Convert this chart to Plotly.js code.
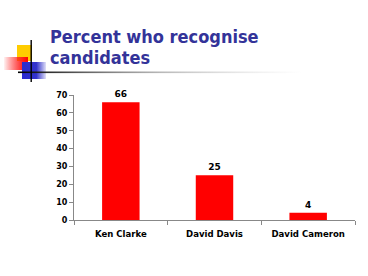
<!DOCTYPE html>
<html><head><meta charset="utf-8">
<script src="https://cdn.plot.ly/plotly-3.0.1.min.js"></script>
<style>html,body{margin:0;padding:0;background:#fff;}#c{width:368px;height:276px;}</style>
</head><body><div id="c"></div>
<script>
const categories = ["Ken Clarke", "David Davis", "David Cameron"];
const values = [66, 25, 4];
const yTicks = [0, 10, 20, 30, 40, 50, 60, 70];
const titleLines = ["Percent who recognise", "candidates"];

const L = 74, R = 13, T = 95, B = 56, W = 368, H = 276;
const pw = W - L - R, ph = H - T - B;
const COND = 'DejaVu Sans Condensed, DejaVu Sans';

const deco = `<svg xmlns='http://www.w3.org/2000/svg' width='368' height='276' viewBox='0 0 368 276'>
<defs>
<linearGradient id='r' x1='0' x2='1' y1='0' y2='0'><stop offset='0' stop-color='#ff0000' stop-opacity='0.05'/><stop offset='0.7' stop-color='#ff2020' stop-opacity='0.9'/><stop offset='1' stop-color='#ff0000'/></linearGradient>
<linearGradient id='b' x1='0' x2='1' y1='0' y2='0'><stop offset='0' stop-color='#2b2bd0'/><stop offset='0.6' stop-color='#3333cc'/><stop offset='1' stop-color='#3333cc' stop-opacity='0.15'/></linearGradient>
<linearGradient id='h' x1='0' x2='1' y1='0' y2='0'><stop offset='0' stop-color='#000'/><stop offset='0.12' stop-color='#333'/><stop offset='0.5' stop-color='#999' stop-opacity='0.7'/><stop offset='1' stop-color='#ccc' stop-opacity='0'/></linearGradient>
</defs>
<rect x='17' y='45' width='15' height='16' fill='#ffcc00'/>
<rect x='4' y='57' width='24' height='13' fill='url(#r)'/>
<rect x='22' y='62' width='24' height='17' fill='url(#b)'/>
<rect x='18' y='71.5' width='285' height='1.6' fill='url(#h)'/>
<rect x='30.5' y='40' width='1.4' height='42' fill='#000'/>
</svg>`;
const decoUri = 'data:image/svg+xml;charset=utf-8,' + encodeURIComponent(deco);

const data = [{
  type: 'bar',
  x: categories,
  y: values,
  text: values.map(String),
  textposition: 'outside',
  cliponaxis: false,
  textfont: {family: 'DejaVu Sans', size: 9, color: '#000', weight: 'bold'},
  marker: {color: '#ff0000', line: {width: 0}},
  hoverinfo: 'none'
}];

function py(p) { return (H - B - p) / ph; }
function px(p) { return (p - L) / pw; }

const layout = {
  width: W, height: H,
  margin: {l: L, r: R, t: T, b: B, pad: 0},
  paper_bgcolor: '#fff', plot_bgcolor: 'rgba(0,0,0,0)',
  showlegend: false,
  bargap: 0.6,
  font: {family: 'DejaVu Sans', size: 9, color: '#000', weight: 'bold'},
  xaxis: {
    type: 'category', showgrid: false, zeroline: false,
    showline: true, linecolor: '#888', linewidth: 1,
    ticks: 'outside', ticklen: 4, tickcolor: '#888', tickson: 'boundaries',
    ticklabelstandoff: 5,
    tickfont: {family: COND, size: 9.5, color: '#000', weight: 'bold'},
    fixedrange: true
  },
  yaxis: {
    range: [0, 70], tickvals: yTicks, ticktext: yTicks.map(String),
    showgrid: false, zeroline: false,
    showline: true, linecolor: '#888', linewidth: 1,
    ticks: 'outside', ticklen: 4, tickcolor: '#888',
    tickfont: {family: 'DejaVu Sans', size: 8, color: '#000', weight: 'bold'},
    fixedrange: true
  },
  annotations: [
    {xref: 'paper', yref: 'paper', x: px(49), y: py(48), xanchor: 'left', yanchor: 'bottom',
     text: titleLines[0], showarrow: false, borderpad: 0,
     font: {family: COND, size: 18, color: '#333399', weight: 'bold'}},
    {xref: 'paper', yref: 'paper', x: px(49), y: py(69), xanchor: 'left', yanchor: 'bottom',
     text: titleLines[1], showarrow: false, borderpad: 0,
     font: {family: COND, size: 18, color: '#333399', weight: 'bold'}}
  ],
  images: [{
    source: decoUri, xref: 'paper', yref: 'paper',
    x: -L / pw, y: (H - B) / ph, sizex: W / pw, sizey: H / ph,
    xanchor: 'left', yanchor: 'top', sizing: 'stretch', layer: 'above'
  }]
};

Plotly.newPlot('c', data, layout, {displayModeBar: false, staticPlot: true});
</script></body></html>
